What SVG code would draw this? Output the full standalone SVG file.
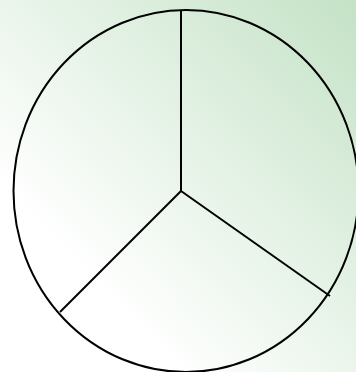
<svg xmlns="http://www.w3.org/2000/svg" width="356" height="372" viewBox="0 0 356 372">
<defs>
<linearGradient id="bg" x1="1" y1="0" x2="0" y2="1">
<stop offset="0" stop-color="#c4e2c6"/>
<stop offset="0.75" stop-color="#ffffff"/>
<stop offset="1" stop-color="#ffffff"/>
</linearGradient>
</defs>
<style>.s{fill:none;stroke:#000;stroke-width:2}</style>
<rect width="356" height="372" fill="url(#bg)"/>
<g id="pie">
<ellipse class="s" cx="186" cy="191" rx="172.5" ry="181"/>
</g>
<g id="connectors">
<line class="s" x1="181" y1="191" x2="181" y2="10"/>
<line class="s" x1="181" y1="191" x2="330" y2="296"/>
<line class="s" x1="181" y1="191" x2="60" y2="312"/>
</g>
</svg>
